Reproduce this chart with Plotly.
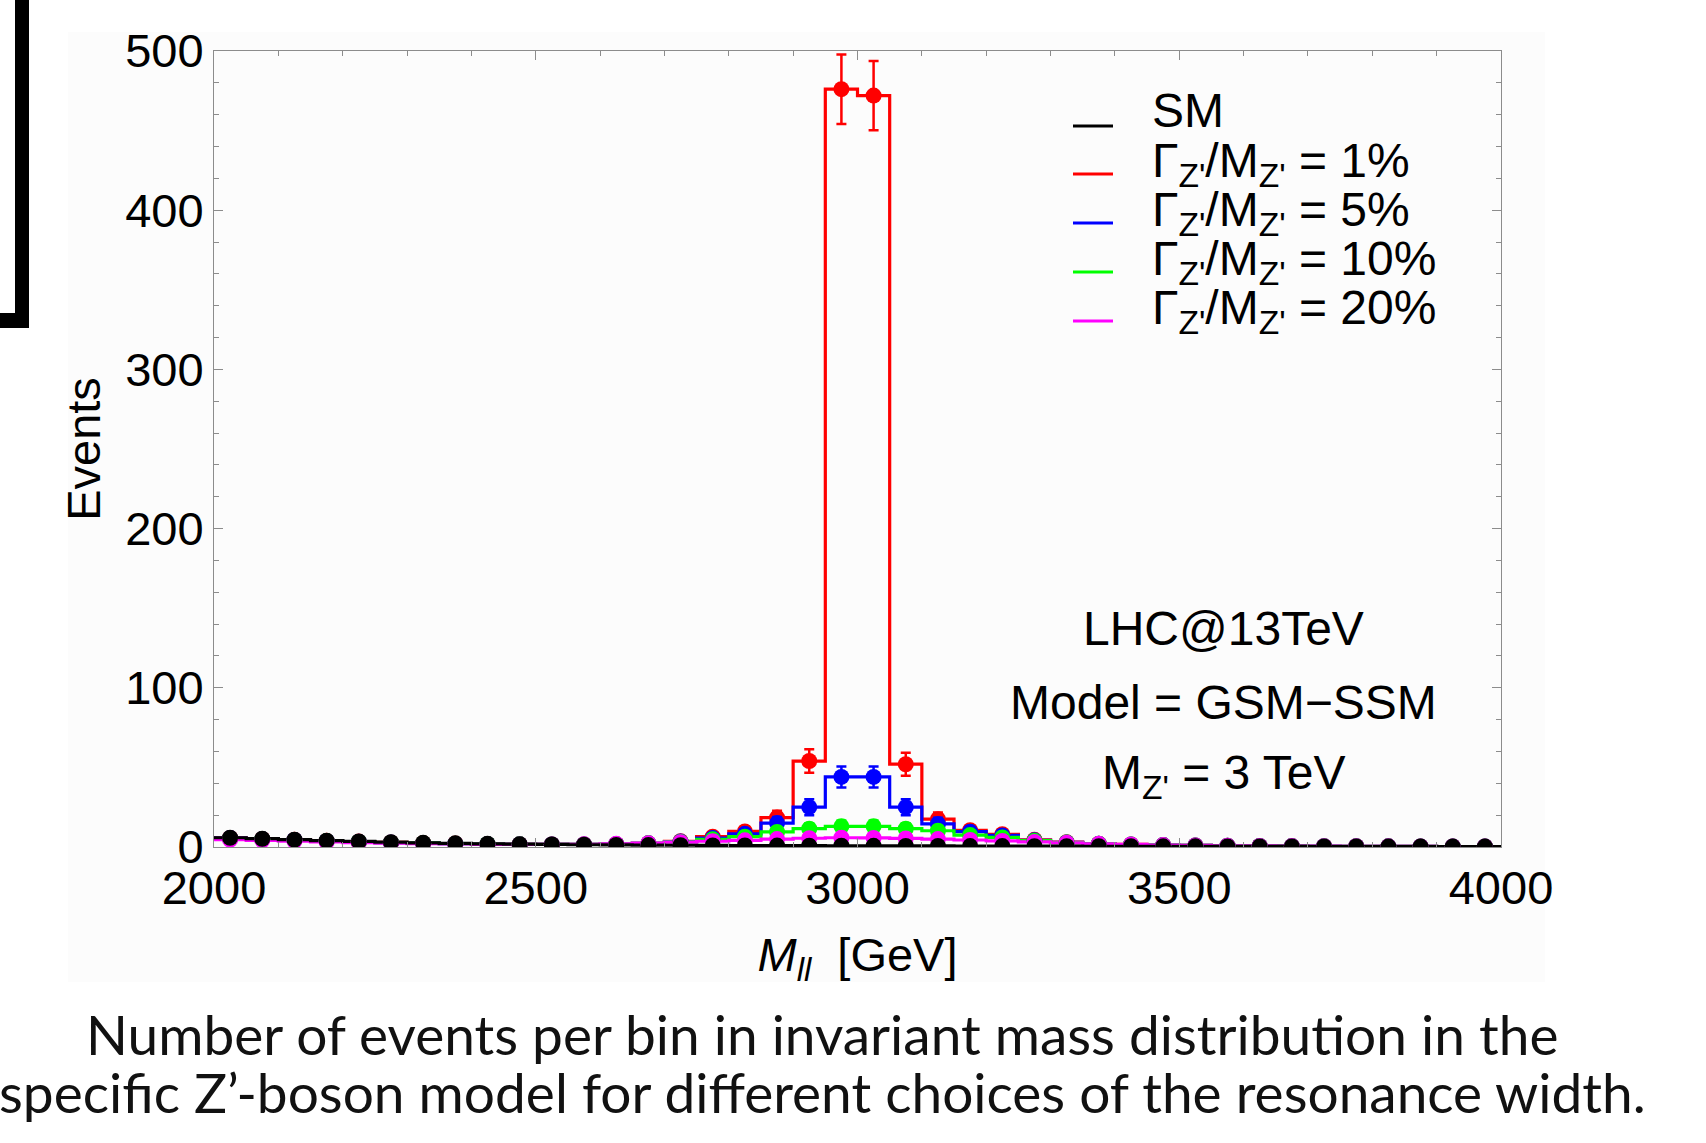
import numpy as np
import plotly.graph_objects as go

# ---------------- data ----------------
bin_edges = list(range(2000, 4001, 50))
bin_centers = [e + 25 for e in bin_edges[:-1]]

sm = [5.8, 5.2, 4.6, 4.0, 3.5, 3.0, 2.6, 2.3, 2.0, 1.8, 1.6, 1.4, 1.3, 1.2, 1.1, 1.0, 0.95, 0.9, 0.85, 0.8,
      0.75, 0.7, 0.65, 0.6, 0.57, 0.54, 0.51, 0.48, 0.45, 0.42, 0.4, 0.38, 0.36, 0.34, 0.32, 0.3, 0.28, 0.27, 0.26, 0.25]
w1 = [5.7, 5.1, 4.5, 3.9, 3.4, 2.9, 2.5, 2.2, 1.9, 1.7, 1.6, 1.6, 1.8, 2.3, 3.6, 6.5, 9.8, 18.5, 54, 476,
      472, 52, 17.5, 10.5, 8.0, 4.5, 3.0, 2.1, 1.6, 1.2, 1.0, 0.8, 0.65, 0.55, 0.5, 0.45, 0.4, 0.35, 0.32, 0.3]
w5 = [5.6, 5.0, 4.4, 3.8, 3.3, 2.8, 2.4, 2.1, 1.9, 1.7, 1.6, 1.6, 1.8, 2.3, 3.4, 5.6, 8.3, 15, 25, 44,
      44, 25, 14.5, 9.6, 7.3, 4.2, 2.9, 2.0, 1.5, 1.2, 1.0, 0.8, 0.65, 0.55, 0.5, 0.45, 0.4, 0.35, 0.32, 0.3]
w10 = [5.3, 4.8, 4.2, 3.7, 3.2, 2.7, 2.4, 2.1, 1.9, 1.7, 1.6, 1.6, 1.8, 2.3, 3.2, 4.8, 6.5, 9.5, 11.5, 13,
       13, 11.5, 10.2, 7.5, 6.0, 4.0, 2.8, 2.0, 1.5, 1.2, 1.0, 0.8, 0.65, 0.55, 0.5, 0.45, 0.4, 0.35, 0.32, 0.3]
w20 = [4.6, 4.2, 3.7, 3.2, 2.8, 2.4, 2.1, 1.9, 1.7, 1.6, 1.6, 1.7, 2.0, 2.4, 3.0, 3.6, 4.2, 5.0, 5.5, 5.8,
       5.7, 5.4, 5.0, 4.4, 3.8, 3.2, 2.6, 2.0, 1.6, 1.2, 1.0, 0.8, 0.7, 0.6, 0.5, 0.45, 0.4, 0.35, 0.3, 0.3]

series_names = ["SM", "Γ<sub>Z'</sub>/M<sub>Z'</sub> = 1%", "Γ<sub>Z'</sub>/M<sub>Z'</sub> = 5%",
                "Γ<sub>Z'</sub>/M<sub>Z'</sub> = 10%", "Γ<sub>Z'</sub>/M<sub>Z'</sub> = 20%"]
series_values = [sm, w1, w5, w10, w20]
series_colors = ["#000000", "#ff0000", "#0000ff", "#00ff00", "#ff00ff"]

y_ticks = [0, 100, 200, 300, 400, 500]
x_ticks = [2000, 2500, 3000, 3500, 4000]

caption_lines = ["Number of events per bin in invariant mass distribution in the",
                 "specific Z’-boson model for different choices of the resonance width."]
info_lines = ["LHC@13TeV", "Model = GSM−SSM", "M<sub>Z'</sub> = 3 TeV"]

# ---------------- layout geometry (pixels) ----------------
W, H = 1706, 1143
L, R, T, B = 214, 1501, 51, 847


def px(x):
    return (x - L) / (R - L)


def py(y):
    return (B - y) / (B - T)


AX_FONT = "Liberation Sans, Arial, Helvetica, sans-serif"

fig = go.Figure()

# draw order: colored first, SM on top
order = [1, 2, 3, 4, 0]
for i in order:
    vals = series_values[i]
    fig.add_trace(go.Scatter(
        x=bin_edges, y=vals + [vals[-1]], mode="lines", line_shape="hv",
        line=dict(color=series_colors[i], width=3.2), showlegend=False, hoverinfo="skip"))
for i in order:
    vals = series_values[i]
    fig.add_trace(go.Scatter(
        x=bin_centers, y=vals, mode="markers",
        marker=dict(color=series_colors[i], size=16),
        error_y=dict(type="data", array=list(np.sqrt(vals)), color=series_colors[i],
                     thickness=2.5, width=5),
        showlegend=False, name=series_names[i]))

shapes = []
annotations = []

# faint background panel
shapes.append(dict(type="rect", xref="paper", yref="paper", x0=px(68), x1=px(1545), y0=py(982), y1=py(32),
                   fillcolor="#fcfcfc", line=dict(width=0), layer="below"))
# black bracket at top-left
shapes.append(dict(type="rect", xref="paper", yref="paper", x0=px(15), x1=px(29), y0=py(328), y1=py(-5),
                   fillcolor="black", line=dict(width=0)))
shapes.append(dict(type="rect", xref="paper", yref="paper", x0=px(-5), x1=px(29), y0=py(328), y1=py(313),
                   fillcolor="black", line=dict(width=0)))

# manual legend
leg_line_y = [126, 174, 223, 272, 321]
leg_text_dy = [16, 10, 10, 10, 10]
for k, yl in enumerate(leg_line_y):
    shapes.append(dict(type="line", xref="paper", yref="paper", x0=px(1073), x1=px(1113), y0=py(yl), y1=py(yl),
                       line=dict(color=series_colors[k], width=3)))
    annotations.append(dict(xref="paper", yref="paper", x=px(1150), y=py(yl - leg_text_dy[k]), xanchor="left",
                            yanchor="middle", showarrow=False, text=series_names[k],
                            font=dict(family=AX_FONT, size=48, color="black")))

info_y = [628, 702, 776]
for t, yy in zip(info_lines, info_y):
    annotations.append(dict(xref="paper", yref="paper", x=px(1223), y=py(yy), xanchor="center",
                            yanchor="middle", showarrow=False, text=t,
                            font=dict(family=AX_FONT, size=48, color="black")))

cap_y = [1034, 1092]
for t, yy in zip(caption_lines, cap_y):
    annotations.append(dict(xref="paper", yref="paper", x=px(822), y=py(yy), xanchor="center",
                            yanchor="middle", showarrow=False, text=t,
                            font=dict(family="Lato, Ubuntu, sans-serif", size=55, color="#111111")))

axis_common = dict(showline=True, linecolor="#8c8c8c", linewidth=1, mirror="allticks", ticks="inside",
                   tickcolor="#8c8c8c", tickwidth=1, showgrid=False, zeroline=False,
                   tickfont=dict(family=AX_FONT, size=47, color="black"))

fig.update_layout(
    width=W, height=H, autosize=False,
    margin=dict(l=L, r=W - R, t=T, b=H - B, pad=0),
    paper_bgcolor="white", plot_bgcolor="rgba(0,0,0,0)",
    shapes=shapes, annotations=annotations, showlegend=False,
    xaxis=dict(range=[2000, 4000], tickvals=x_ticks, ticklen=9,
               minor=dict(dtick=100, ticklen=5, ticks="inside", tickcolor="#8c8c8c"),
               title=dict(text="<i>M<sub>ll</sub></i>  [GeV]", standoff=24,
                          font=dict(family=AX_FONT, size=47, color="black")),
               **axis_common),
    yaxis=dict(range=[0, 500], tickvals=y_ticks, ticklen=9,
               minor=dict(dtick=20, ticklen=5, ticks="inside", tickcolor="#8c8c8c"),
               title=dict(text="Events", standoff=9,
                          font=dict(family=AX_FONT, size=47, color="black")),
               **axis_common),
)

fig.write_html("out.html")
